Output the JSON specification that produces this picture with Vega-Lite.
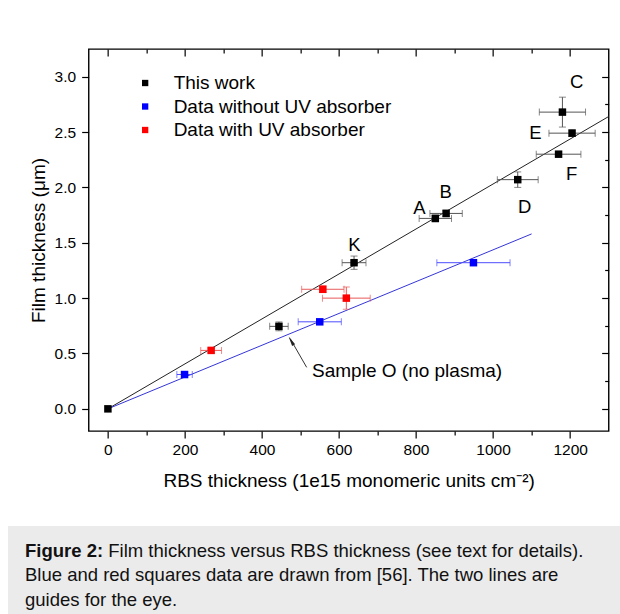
{
  "$schema": "https://vega.github.io/schema/vega-lite/v6.json",
  "padding": {"left": 8, "top": 47, "right": 0, "bottom": 0},
  "background": "white",
  "center": true,
  "spacing": 34,
  "config": {
    "font": "Liberation Sans",
    "view": {"stroke": "#000", "strokeWidth": 1.4},
    "axis": {
      "domain": false, "grid": false, "tickColor": "#000", "tickWidth": 1.2,
      "labelFont": "Liberation Sans", "labelFontSize": 15.5, "labelColor": "#000",
      "titleFont": "Liberation Sans", "titleFontSize": 19, "titleFontWeight": "normal", "titleColor": "#000",
      "labelFlush": false, "labelOverlap": false, "labelBound": false
    },
    "legend": {
      "orient": "none", "legendX": 47, "legendY": 24.5, "title": null,
      "symbolType": "square", "symbolSize": 40, "symbolStrokeWidth": 0,
      "labelFont": "Liberation Sans", "labelFontSize": 19, "labelColor": "#000", "labelLimit": 400,
      "rowPadding": 3.5, "padding": 0, "labelOffset": 19
    }
  },
  "datasets": {
    "points": [
      {"series": "This work", "x": 0, "y": 0, "xerr": 0, "yerr": 0},
      {"series": "This work", "x": 444, "y": 0.745, "xerr": 24, "yerr": 0.04},
      {"series": "This work", "x": 639, "y": 1.32, "xerr": 31, "yerr": 0.06},
      {"series": "This work", "x": 850, "y": 1.72, "xerr": 42, "yerr": 0.03},
      {"series": "This work", "x": 878, "y": 1.765, "xerr": 42, "yerr": 0.03},
      {"series": "This work", "x": 1064, "y": 2.07, "xerr": 53, "yerr": 0.07},
      {"series": "This work", "x": 1180, "y": 2.68, "xerr": 60, "yerr": 0.135},
      {"series": "This work", "x": 1205, "y": 2.49, "xerr": 60, "yerr": 0.03},
      {"series": "This work", "x": 1170, "y": 2.3, "xerr": 58, "yerr": 0},
      {"series": "Data without UV absorber", "x": 199, "y": 0.31, "xerr": 20, "yerr": 0},
      {"series": "Data without UV absorber", "x": 550, "y": 0.786, "xerr": 56, "yerr": 0},
      {"series": "Data without UV absorber", "x": 949, "y": 1.32, "xerr": 95, "yerr": 0},
      {"series": "Data with UV absorber", "x": 268, "y": 0.528, "xerr": 27, "yerr": 0.02},
      {"series": "Data with UV absorber", "x": 558, "y": 1.08, "xerr": 55, "yerr": 0.03},
      {"series": "Data with UV absorber", "x": 619, "y": 1.0, "xerr": 62, "yerr": 0.1}
    ],
    "guides": [
      {"guide": "black", "x": 0, "y": 0},
      {"guide": "black", "x": 1300, "y": 2.64},
      {"guide": "blue", "x": 0, "y": 0},
      {"guide": "blue", "x": 1100, "y": 1.58}
    ],
    "labels": [
      {"label": "C", "x": 1217, "y": 2.95},
      {"label": "E", "x": 1110, "y": 2.49},
      {"label": "F", "x": 1204, "y": 2.12},
      {"label": "D", "x": 1082, "y": 1.82},
      {"label": "B", "x": 877, "y": 1.96},
      {"label": "A", "x": 809, "y": 1.815},
      {"label": "K", "x": 640, "y": 1.48}
    ],
    "arrow": [
      {"x": 516, "y": 0.375, "x2": 473, "y2": 0.635, "hx": 475.6, "hy": 0.615}
    ],
    "note": [
      {"text": "Sample O (no plasma)", "x": 530, "y": 0.345}
    ],
    "caption": [
      {"line": 1, "part": "head", "text": "Figure 2:"},
      {"line": 1, "part": "body", "text": "Film thickness versus RBS thickness (see text for details)."},
      {"line": 2, "part": "body", "text": "Blue and red squares data are drawn from [56]. The two lines are"},
      {"line": 3, "part": "body", "text": "guides for the eye."}
    ]
  },
  "vconcat": [
    {
      "width": 520,
      "height": 382,
      "layer": [
        {
          "data": {"name": "guides"},
          "transform": [{"filter": "datum.guide === 'black'"}],
          "mark": {"type": "line", "color": "#222", "strokeWidth": 1},
          "encoding": {
            "x": {"field": "x", "type": "quantitative",
              "scale": {"domain": [-50, 1300], "nice": false, "zero": false},
              "axis": {"orient": "top", "values": [0,100,200,300,400,500,600,700,800,900,1000,1100,1200], "labels": false, "title": null,
                "tickSize": {"condition": {"test": "datum.value % 200 === 0", "value": -7}, "value": -4}}},
            "y": {"field": "y", "type": "quantitative",
              "scale": {"domain": [-0.2, 3.25], "nice": false, "zero": false},
              "axis": {"orient": "right", "values": [0,0.25,0.5,0.75,1,1.25,1.5,1.75,2,2.25,2.5,2.75,3], "labels": false, "title": null,
                "tickSize": {"condition": {"test": "datum.value % 0.5 === 0", "value": -7}, "value": -4}}}
          }
        },
        {
          "layer": [
            {
              "data": {"name": "guides"},
              "transform": [{"filter": "datum.guide === 'blue'"}],
              "mark": {"type": "line", "color": "#3535d8", "strokeWidth": 1},
              "encoding": {
                "x": {"field": "x", "type": "quantitative", "title": "RBS thickness (1e15 monomeric units cm⁻²)",
                  "scale": {"domain": [-50, 1300], "nice": false, "zero": false},
                  "axis": {"orient": "bottom", "values": [0,100,200,300,400,500,600,700,800,900,1000,1100,1200],
                    "format": "d",
                    "labelExpr": "datum.value % 200 === 0 ? datum.label : ''",
                    "tickSize": {"condition": {"test": "datum.value % 200 === 0", "value": 7}, "value": 4},
                    "labelPadding": 4, "titlePadding": 14}},
                "y": {"field": "y", "type": "quantitative", "title": "Film thickness (μm)",
                  "scale": {"domain": [-0.2, 3.25], "nice": false, "zero": false},
                  "axis": {"orient": "left", "values": [0,0.25,0.5,0.75,1,1.25,1.5,1.75,2,2.25,2.5,2.75,3],
                    "format": ".1f",
                    "labelExpr": "datum.value % 0.5 === 0 ? datum.label : ''",
                    "tickSize": {"condition": {"test": "datum.value % 0.5 === 0", "value": 7}, "value": 4},
                    "labelPadding": 6, "titlePadding": 6}}
              }
            },
            {
              "data": {"name": "points"},
              "transform": [{"filter": "datum.xerr > 0"}],
              "mark": {"type": "errorbar", "ticks": {"size": 7, "thickness": 1}, "rule": {"strokeWidth": 1}},
              "encoding": {
                "x": {"field": "x", "type": "quantitative", "title": "RBS thickness (1e15 monomeric units cm⁻²)"},
                "xError": {"field": "xerr"},
                "y": {"field": "y", "type": "quantitative", "title": "Film thickness (μm)"},
                "color": {"field": "series", "type": "nominal", "legend": null,
                  "scale": {"domain": ["This work", "Data without UV absorber", "Data with UV absorber"], "range": ["#555555", "#4d4dff", "#e85a5a"]}}
              }
            },
            {
              "data": {"name": "points"},
              "transform": [{"filter": "datum.yerr > 0"}],
              "mark": {"type": "errorbar", "ticks": {"size": 7, "thickness": 1}, "rule": {"strokeWidth": 1}},
              "encoding": {
                "y": {"field": "y", "type": "quantitative", "title": "Film thickness (μm)"},
                "yError": {"field": "yerr"},
                "x": {"field": "x", "type": "quantitative", "title": "RBS thickness (1e15 monomeric units cm⁻²)"},
                "color": {"field": "series", "type": "nominal", "legend": null,
                  "scale": {"domain": ["This work", "Data without UV absorber", "Data with UV absorber"], "range": ["#555555", "#4d4dff", "#e85a5a"]}}
              }
            },
            {
              "data": {"name": "points"},
              "mark": {"type": "point", "shape": "square", "filled": true, "size": 56, "opacity": 1},
              "encoding": {
                "x": {"field": "x", "type": "quantitative", "title": "RBS thickness (1e15 monomeric units cm⁻²)"},
                "y": {"field": "y", "type": "quantitative", "title": "Film thickness (μm)"},
                "color": {"field": "series", "type": "nominal",
                  "scale": {"domain": ["This work", "Data without UV absorber", "Data with UV absorber"], "range": ["#000000", "#0000ff", "#ff0000"]}}
              }
            },
            {
              "data": {"name": "labels"},
              "mark": {"type": "text", "fontSize": 18.5, "color": "#000", "align": "center", "baseline": "middle"},
              "encoding": {
                "x": {"field": "x", "type": "quantitative", "title": "RBS thickness (1e15 monomeric units cm⁻²)"},
                "y": {"field": "y", "type": "quantitative", "title": "Film thickness (μm)"},
                "text": {"field": "label"}
              }
            },
            {
              "data": {"name": "arrow"},
              "mark": {"type": "rule", "color": "#333", "strokeWidth": 1},
              "encoding": {
                "x": {"field": "x", "type": "quantitative", "title": "RBS thickness (1e15 monomeric units cm⁻²)"},
                "y": {"field": "y", "type": "quantitative", "title": "Film thickness (μm)"},
                "x2": {"field": "x2"},
                "y2": {"field": "y2"}
              }
            },
            {
              "data": {"name": "arrow"},
              "mark": {"type": "point", "shape": "M0,-1L0.35,1L-0.35,1Z", "filled": true, "color": "#222", "size": 100, "angle": 330, "opacity": 1},
              "encoding": {
                "x": {"field": "hx", "type": "quantitative", "title": "RBS thickness (1e15 monomeric units cm⁻²)"},
                "y": {"field": "hy", "type": "quantitative", "title": "Film thickness (μm)"}
              }
            },
            {
              "data": {"name": "note"},
              "mark": {"type": "text", "fontSize": 19, "color": "#000", "align": "left", "baseline": "middle"},
              "encoding": {
                "x": {"field": "x", "type": "quantitative", "title": "RBS thickness (1e15 monomeric units cm⁻²)"},
                "y": {"field": "y", "type": "quantitative", "title": "Film thickness (μm)"},
                "text": {"field": "text"}
              }
            }
          ],
          "resolve": {"scale": {"color": "independent"}}
        }
      ],
      "resolve": {"axis": {"x": "independent", "y": "independent"}}
    },
    {
      "width": 684,
      "height": 98,
      "view": {"fill": "#ebebeb", "stroke": null},
      "data": {"name": "caption"},
      "encoding": {
        "y": {"field": "line", "type": "ordinal", "axis": null, "scale": {"type": "point", "padding": 1.04}},
        "x": {"datum": 0, "type": "quantitative", "axis": null, "scale": {"domain": [0, 1]}},
        "text": {"field": "text"}
      },
      "layer": [
        {
          "transform": [{"filter": "datum.part === 'head'"}],
          "mark": {"type": "text", "align": "left", "baseline": "middle", "fontSize": 18.5, "fontWeight": "bold", "color": "#111", "dx": 17}
        },
        {
          "transform": [{"filter": "datum.part === 'body' && datum.line === 1"}],
          "mark": {"type": "text", "align": "left", "baseline": "middle", "fontSize": 18.5, "color": "#111", "dx": 100.3}
        },
        {
          "transform": [{"filter": "datum.line > 1"}],
          "mark": {"type": "text", "align": "left", "baseline": "middle", "fontSize": 18.5, "color": "#111", "dx": 17}
        }
      ]
    }
  ]
}
